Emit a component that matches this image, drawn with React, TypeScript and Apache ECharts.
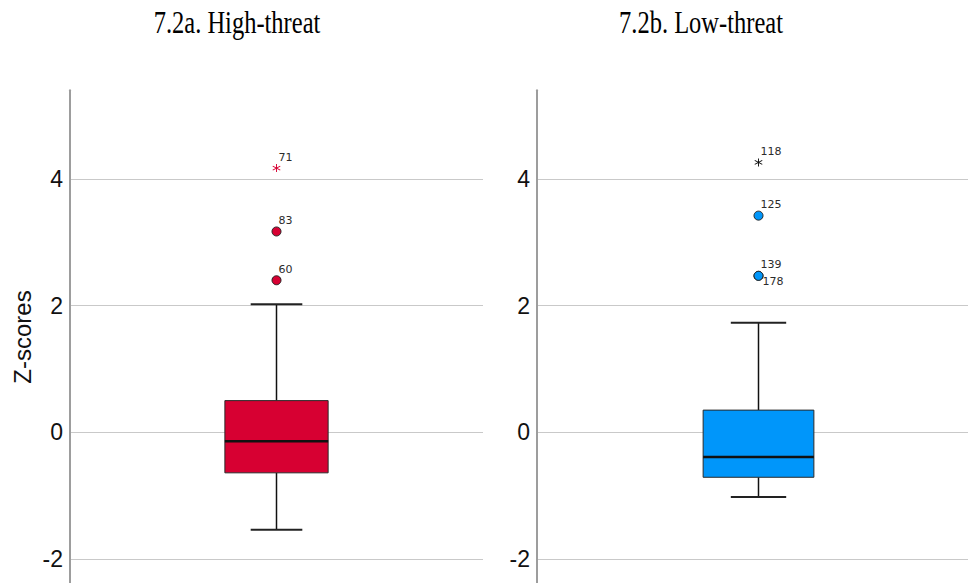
import React, { useEffect, useRef } from "react";
import * as echarts from "echarts";

// Panel titles
const panelTitles = ["7.2a. High-threat", "7.2b. Low-threat"];
const yAxisTitle = "Z-scores";
const yTickLabels = [-2, 0, 2, 4];

// Box summaries: [min, Q1, median, Q3, max] of the Z-scores
const highThreatBox = [-1.54, -0.64, -0.14, 0.5, 2.02];
const lowThreatBox = [-1.02, -0.71, -0.39, 0.35, 1.73];

// Outliers (circles) and extreme values (asterisks), labelled by case number
const highOutlierIds = ["60", "83"];
const highOutlierValues = [2.4, 3.17];
const highExtremeIds = ["71"];
const highExtremeValues = [4.17];

const lowOutlierIds = ["139", "178", "125"];
const lowOutlierValues = [2.47, 2.47, 3.42];
const lowExtremeIds = ["118"];
const lowExtremeValues = [4.26];

// Case labels that sit beneath their marker instead of above it
const labelsBelow = ["178"];

const RED = "#D70032";
const BLUE = "#0096FA";

// Six-armed asterisk used for extreme values
const ASTERISK =
  "path://M5.55,0 L4.45,0 L4.45,10 L5.55,10 Z " +
  "M9.62,2.95 L9.08,2.0 L0.38,7.05 L0.92,8.0 Z " +
  "M9.08,8.0 L9.62,7.05 L0.92,2.0 L0.38,2.95 Z";

const renderBox = (fill: string) => (params: any, api: any) => {
  const c = api.value(0);
  const [cx, yMin] = api.coord([c, api.value(1)]);
  const yQ1 = api.coord([c, api.value(2)])[1];
  const yMed = api.coord([c, api.value(3)])[1];
  const yQ3 = api.coord([c, api.value(4)])[1];
  const yMax = api.coord([c, api.value(5)])[1];
  const band = api.size([1, 0])[0];
  const bw = band * 0.25;
  const cw = bw / 2;
  const whisker = { stroke: "#111", lineWidth: 1.5 };
  return {
    type: "group",
    children: [
      { type: "line", shape: { x1: cx, y1: yMax, x2: cx, y2: yQ3 }, style: whisker },
      { type: "line", shape: { x1: cx, y1: yQ1, x2: cx, y2: yMin }, style: whisker },
      { type: "line", shape: { x1: cx - cw / 2, y1: yMax, x2: cx + cw / 2, y2: yMax }, style: { stroke: "#222", lineWidth: 2 } },
      { type: "line", shape: { x1: cx - cw / 2, y1: yMin, x2: cx + cw / 2, y2: yMin }, style: { stroke: "#222", lineWidth: 2 } },
      {
        type: "rect",
        shape: { x: cx - bw / 2, y: yQ3, width: bw, height: yQ1 - yQ3 },
        style: { fill, stroke: "#2a2a2a", lineWidth: 1 },
      },
      { type: "line", shape: { x1: cx - bw / 2, y1: yMed, x2: cx + bw / 2, y2: yMed }, style: { stroke: "#111", lineWidth: 2.5 } },
    ],
  };
};

const pointData = (ids: string[], values: number[]) =>
  ids.map((id, i) => {
    const below = labelsBelow.includes(id);
    return {
      name: id,
      value: [0, values[i]],
      label: { offset: below ? [4, 6] : [2, -11] },
    };
  });

const caseLabel = {
  show: true,
  position: "inside",
  align: "left",
  verticalAlign: "middle",
  formatter: "{b}",
  fontFamily: "DejaVu Sans",
  fontSize: 11,
  color: "#2b2b2b",
};

const makeYAxis = (gridIndex: number) => ({
  type: "value",
  gridIndex,
  min: -4,
  max: 5.4,
  interval: 2,
  axisLine: { show: true, lineStyle: { color: "#9d9d9d", width: 2 } },
  axisTick: { show: false },
  axisLabel: {
    fontFamily: "Liberation Sans",
    fontSize: 23,
    color: "#111",
    margin: 7,
    showMaxLabel: false,
    showMinLabel: false,
    formatter: (v: number) => (yTickLabels.includes(v) ? String(v) : ""),
  },
  splitLine: {
    show: true,
    showMaxLine: false,
    lineStyle: { color: "#c9c9c9", width: 1 },
  },
});

const titleText = (text: string, x: number) => ({
  type: "text",
  x,
  y: 22.5,
  scaleY: 1.3,
  style: {
    text,
    fontFamily: "Liberation Serif",
    fontSize: 24.5,
    fill: "#000",
    align: "center",
    verticalAlign: "middle",
  },
});

export default function App() {
  const ref = useRef<HTMLDivElement>(null);

  useEffect(() => {
    if (!ref.current) return;
    const chart = echarts.init(ref.current, undefined, { renderer: "svg" });
    chart.setOption({
      animation: false,
      backgroundColor: "#fff",
      grid: [
        { left: 70, top: 90.2, width: 413, height: 595.5 },
        { left: 537, top: 90.2, width: 443, height: 595.5 },
      ],
      xAxis: [
        { type: "category", gridIndex: 0, data: [panelTitles[0]], show: false },
        { type: "category", gridIndex: 1, data: [panelTitles[1]], show: false },
      ],
      yAxis: [makeYAxis(0), makeYAxis(1)],
      graphic: [
        titleText(panelTitles[0], 237),
        titleText(panelTitles[1], 701),
        {
          type: "text",
          x: 22,
          y: 337,
          rotation: Math.PI / 2,
          style: {
            text: yAxisTitle,
            fontFamily: "Liberation Sans",
            fontSize: 24,
            fill: "#111",
            align: "center",
            verticalAlign: "middle",
          },
        },
      ],
      series: [
        {
          type: "custom",
          xAxisIndex: 0,
          yAxisIndex: 0,
          renderItem: renderBox(RED),
          encode: { x: 0, y: [1, 2, 3, 4, 5] },
          data: [[0, ...highThreatBox]],
          z: 2,
        },
        {
          type: "custom",
          xAxisIndex: 1,
          yAxisIndex: 1,
          renderItem: renderBox(BLUE),
          encode: { x: 0, y: [1, 2, 3, 4, 5] },
          data: [[0, ...lowThreatBox]],
          z: 2,
        },
        {
          type: "scatter",
          xAxisIndex: 0,
          yAxisIndex: 0,
          symbol: "circle",
          symbolSize: 9,
          itemStyle: { color: RED, borderColor: "#222", borderWidth: 1, opacity: 1 },
          label: caseLabel,
          data: pointData(highOutlierIds, highOutlierValues),
          z: 3,
        },
        {
          type: "scatter",
          xAxisIndex: 0,
          yAxisIndex: 0,
          symbol: ASTERISK,
          symbolSize: 8,
          itemStyle: { color: RED, opacity: 1 },
          label: caseLabel,
          data: pointData(highExtremeIds, highExtremeValues),
          z: 3,
        },
        {
          type: "scatter",
          xAxisIndex: 1,
          yAxisIndex: 1,
          symbol: "circle",
          symbolSize: 9,
          itemStyle: { color: BLUE, borderColor: "#222", borderWidth: 1, opacity: 1 },
          label: caseLabel,
          data: pointData(lowOutlierIds, lowOutlierValues),
          z: 3,
        },
        {
          type: "scatter",
          xAxisIndex: 1,
          yAxisIndex: 1,
          symbol: ASTERISK,
          symbolSize: 8,
          itemStyle: { color: "#111", opacity: 1 },
          label: caseLabel,
          data: pointData(lowExtremeIds, lowExtremeValues),
          z: 3,
        },
      ],
    });
    return () => chart.dispose();
  }, []);

  return (
    <div
      style={{
        position: "fixed",
        left: 0,
        top: 0,
        width: 968,
        height: 583,
        overflow: "hidden",
        background: "#fff",
      }}
    >
      <div ref={ref} style={{ width: 990, height: 700 }} />
    </div>
  );
}
